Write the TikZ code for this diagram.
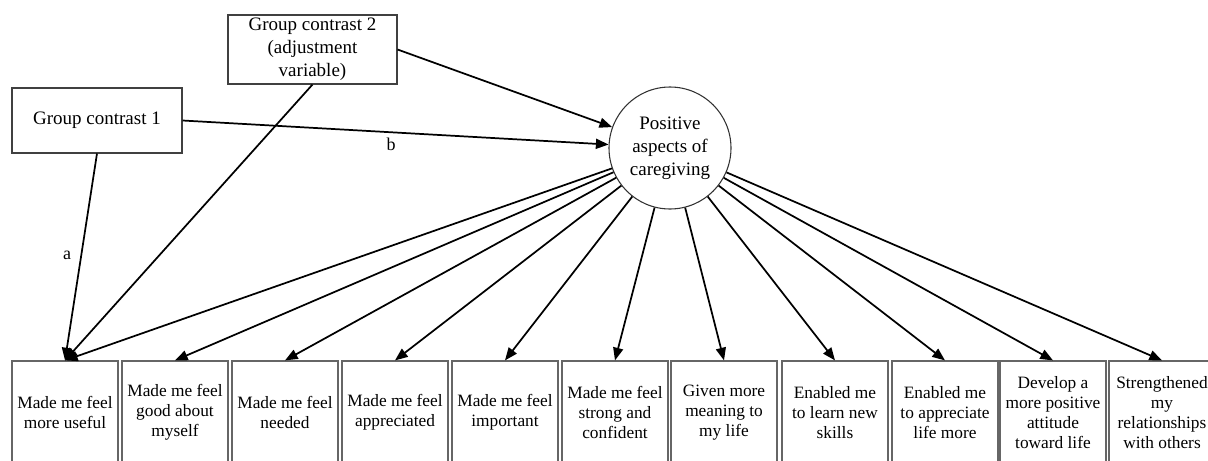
\documentclass[tikz,border=0pt]{standalone}
\usepackage{fontspec}
\setmainfont{Liberation Serif}
\usetikzlibrary{arrows.meta}
\begin{document}
\begin{tikzpicture}[x=0.75pt,y=-0.75pt,
  topbox/.style={draw=black!75, line width=0.8pt, inner sep=0pt, align=center,
    font=\fontsize{14.25}{17.25}\selectfont},
  itembox/.style={draw=black!60, line width=0.9pt, minimum width=79.5pt,
    minimum height=77.25pt, inner sep=0pt, align=center,
    font=\fontsize{13}{15}\selectfont},
  latent/.style={circle, draw=black!80, line width=0.8pt, minimum size=91.5pt,
    inner sep=0pt, align=center, font=\fontsize{14.25}{17.25}\selectfont},
  conn/.style={line width=1.3pt, -{Triangle[length=9.5pt,width=7.5pt]}},
  lbl/.style={font=\fontsize{13.5}{15}\selectfont, inner sep=0pt}]
\useasboundingbox (0,0) rectangle (1208,461);
\begin{scope}
\clip (0,0) rectangle (1208,461);
\node[topbox, minimum width=127.5pt, minimum height=48.75pt] (gc1) at (97,120.5) {Group contrast 1};
\node[topbox, minimum width=126.75pt, minimum height=51.75pt] (gc2) at (312.5,49.5) {Group contrast 2\\(adjustment\\variable)};
\node[latent] (pac) at (670,148) {Positive\\aspects of\\caregiving};
\node[itembox] (b1) at (65,412.5) {Made me feel\\more useful};
\node[itembox] (b2) at (175,412.5) {Made me feel\\good about\\myself};
\node[itembox] (b3) at (285,412.5) {Made me feel\\needed};
\node[itembox] (b4) at (395,412.5) {Made me feel\\appreciated};
\node[itembox] (b5) at (505,412.5) {Made me feel\\important};
\node[itembox] (b6) at (615,412.5) {Made me feel\\strong and\\confident};
\node[itembox] (b7) at (724,412.5) {Given more\\meaning to\\my life};
\node[itembox] (b8) at (835,412.5) {Enabled me\\to learn new\\skills};
\node[itembox] (b9) at (945,412.5) {Enabled me\\to appreciate\\life more};
\node[itembox] (b10) at (1053,412.5) {Develop a\\more positive\\attitude\\toward life};
\node[itembox] (b11) at (1162,412.5) {Strengthened\\my\\relationships\\with others};
\end{scope}
\draw[conn] (gc2.east) -- (pac);
\draw[conn] (gc1.east) -- (pac);
\draw[conn] (gc1.south) -- (b1.north);
\draw[conn] (gc2.south) -- (b1.north);
\foreach \i in {1,...,11} {
  \draw[conn] (pac) -- (b\i.north);
}
\node[lbl] (la) at (67,255) {a};
\node[lbl] (lb) at (391,144) {b};
\end{tikzpicture}
\end{document}
